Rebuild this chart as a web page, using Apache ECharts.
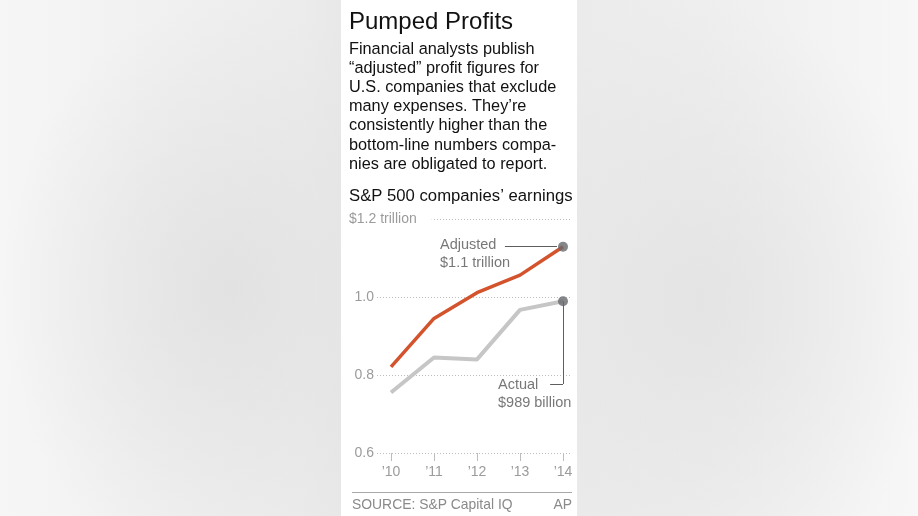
<!DOCTYPE html>
<html>
<head>
<meta charset="utf-8">
<script src="https://cdn.jsdelivr.net/npm/echarts@6/dist/echarts.min.js"></script>
<style>
  html, body { margin: 0; padding: 0; width: 918px; height: 516px; overflow: hidden; }
  body {
    background:
      radial-gradient(ellipse 230px 290px at 230px 290px, rgba(226,226,226,1), rgba(226,226,226,0)),
      radial-gradient(ellipse 240px 300px at 700px 300px, rgba(228,228,228,1), rgba(228,228,228,0)),
      linear-gradient(to right, #f6f6f6 0px, #ececec 300px, #e8e8e8 341px, #ebebeb 577px, #eeeeee 700px, #f7f7f7 918px);
  }
  #panel { position: absolute; left: 341px; top: 0; width: 236px; height: 516px; background: #ffffff; }
  #chart { position: absolute; left: 0; top: 0; width: 918px; height: 516px; }
</style>
</head>
<body>
<div id="panel"></div>
<div id="chart"></div>
<script>
// ---- data ----
const years = [2010, 2011, 2012, 2013, 2014];
const yearLabels = ['\u201910', '\u201911', '\u201912', '\u201913', '\u201914'];
const adjusted = [0.821, 0.945, 1.011, 1.056, 1.129];
const actual = [0.755, 0.845, 0.840, 0.967, 0.989];
const yTicks = [0.6, 0.8, 1.0, 1.2];

const titleText = 'Pumped Profits';
const bodyText = 'Financial analysts publish\n\u201cadjusted\u201d profit figures for\nU.S. companies that exclude\nmany expenses. They\u2019re\nconsistently higher than the\nbottom-line numbers compa-\nnies are obligated to report.';
const subText = 'S&P 500 companies\u2019 earnings';
const sourceText = 'SOURCE: S&P Capital IQ';
const creditText = 'AP';
const adjLabel = 'Adjusted\n$1.1 trillion';
const actLabel = 'Actual\n$989 billion';

// ---- annotation geometry (data space) ----
const adjLeaderX0 = 2012.65, adjLeaderX1 = 2013.86;
const actLeaderY = 0.777, actLeaderX = 2013.70;

const FONT = '"Liberation Sans", Arial, Helvetica, sans-serif';
const last = years.length - 1;

const chart = echarts.init(document.getElementById('chart'), null, { renderer: 'canvas' });

chart.setOption({
  backgroundColor: 'transparent',
  animation: false,
  textStyle: { fontFamily: FONT },
  title: [
    { text: titleText, left: 349, top: 8, padding: 0,
      textStyle: { fontFamily: FONT, fontSize: 24, fontWeight: 'normal', color: '#111', lineHeight: 29 } },
    { text: bodyText, left: 349, top: 40, padding: 0,
      textStyle: { fontFamily: FONT, fontSize: 16.3, fontWeight: 'normal', color: '#111', lineHeight: 19.1 } },
    { text: subText, left: 349, top: 186, padding: 0,
      textStyle: { fontFamily: FONT, fontSize: 16.7, fontWeight: 'normal', color: '#111', lineHeight: 20 } },
    { text: sourceText, left: 352, top: 497, padding: 0,
      textStyle: { fontFamily: FONT, fontSize: 13.9, fontWeight: 'normal', color: '#8a8a8a', lineHeight: 16 } },
    { text: creditText, right: 346, top: 497, padding: 0,
      textStyle: { fontFamily: FONT, fontSize: 13.9, fontWeight: 'normal', color: '#8a8a8a', lineHeight: 16 } }
  ],
  graphic: [
    { type: 'line', shape: { x1: 352, y1: 492.5, x2: 572, y2: 492.5 },
      style: { stroke: '#a8a8a8', lineWidth: 1 } }
  ],
  grid: { left: 377, right: 347, top: 219, bottom: 63, containLabel: false },
  xAxis: {
    type: 'value',
    min: 2010 - 14 / 43,
    max: 2014 + 8 / 43,
    axisLine: { show: false },
    splitLine: { show: false },
    axisTick: { show: true, customValues: years, length: 8, lineStyle: { color: '#bdbdbd', width: 1 } },
    axisLabel: {
      show: true, customValues: years, margin: 12,
      formatter: v => yearLabels[years.indexOf(Math.round(v))] || '',
      color: '#9b9b9b', fontSize: 14, fontFamily: FONT
    }
  },
  yAxis: [
    {
      type: 'value', min: 0.6, max: 1.2, interval: 0.2,
      axisLine: { show: false }, axisTick: { show: false },
      splitLine: { show: true, lineStyle: { color: '#bdbdbd', type: [1, 2], width: 1 } },
      axisLabel: {
        margin: 3, color: '#9b9b9b', fontSize: 14, fontFamily: FONT,
        formatter: v => (Math.abs(v - 1.2) < 1e-6 ? '' : v.toFixed(1))
      }
    },
    {
      type: 'value', min: 0.6, max: 1.2, interval: 0.2, position: 'left',
      axisLine: { show: false }, axisTick: { show: false }, splitLine: { show: false },
      axisLabel: {
        margin: 28, align: 'left', color: '#9b9b9b', fontSize: 14, fontFamily: FONT,
        formatter: v => (Math.abs(v - 1.2) < 1e-6 ? '{t|$1.2 trillion}' : ''),
        rich: {
          t: { color: '#9b9b9b', fontSize: 14, fontFamily: FONT,
               backgroundColor: '#ffffff', padding: [2, 15, 2, 0] }
        }
      }
    }
  ],
  series: [
    {
      name: 'Actual', type: 'line', yAxisIndex: 0,
      data: years.map((y, i) => [y, actual[i]]),
      symbol: 'none', lineStyle: { color: '#c6c6c6', width: 4 }, z: 2,
      markLine: {
        silent: true, symbol: 'none', label: { show: false },
        lineStyle: { color: '#5e5e5e', width: 1, type: 'solid' },
        data: [
          [{ coord: [years[last], actual[last]] }, { coord: [years[last], actLeaderY] }],
          [{ coord: [years[last], actLeaderY] }, { coord: [actLeaderX, actLeaderY] }]
        ]
      }
    },
    {
      name: 'Adjusted', type: 'line', yAxisIndex: 0,
      data: years.map((y, i) => [y, adjusted[i]]),
      symbol: 'none', lineStyle: { color: '#d3532d', width: 3.5 }, z: 3,
      markLine: {
        silent: true, symbol: 'none', label: { show: false },
        lineStyle: { color: '#5e5e5e', width: 1, type: 'solid' },
        data: [
          [{ coord: [adjLeaderX0, adjusted[last]] }, { coord: [adjLeaderX1, adjusted[last]] }]
        ]
      }
    },
    {
      name: 'ends', type: 'scatter', yAxisIndex: 0, z: 5,
      symbol: 'circle', symbolSize: 10,
      itemStyle: { color: '#67686d' },
      data: [
        { value: [years[last], adjusted[last]],
          label: { show: true, formatter: adjLabel, position: [-118, -6], align: 'left', verticalAlign: 'top',
                   color: '#555', fontSize: 14.5, lineHeight: 18, fontFamily: FONT } },
        { value: [years[last], actual[last]],
          label: { show: true, formatter: actLabel, position: [-60, 80], align: 'left', verticalAlign: 'top',
                   color: '#555', fontSize: 14.5, lineHeight: 17.5, fontFamily: FONT } }
      ]
    }
  ]
});
</script>
</body>
</html>
